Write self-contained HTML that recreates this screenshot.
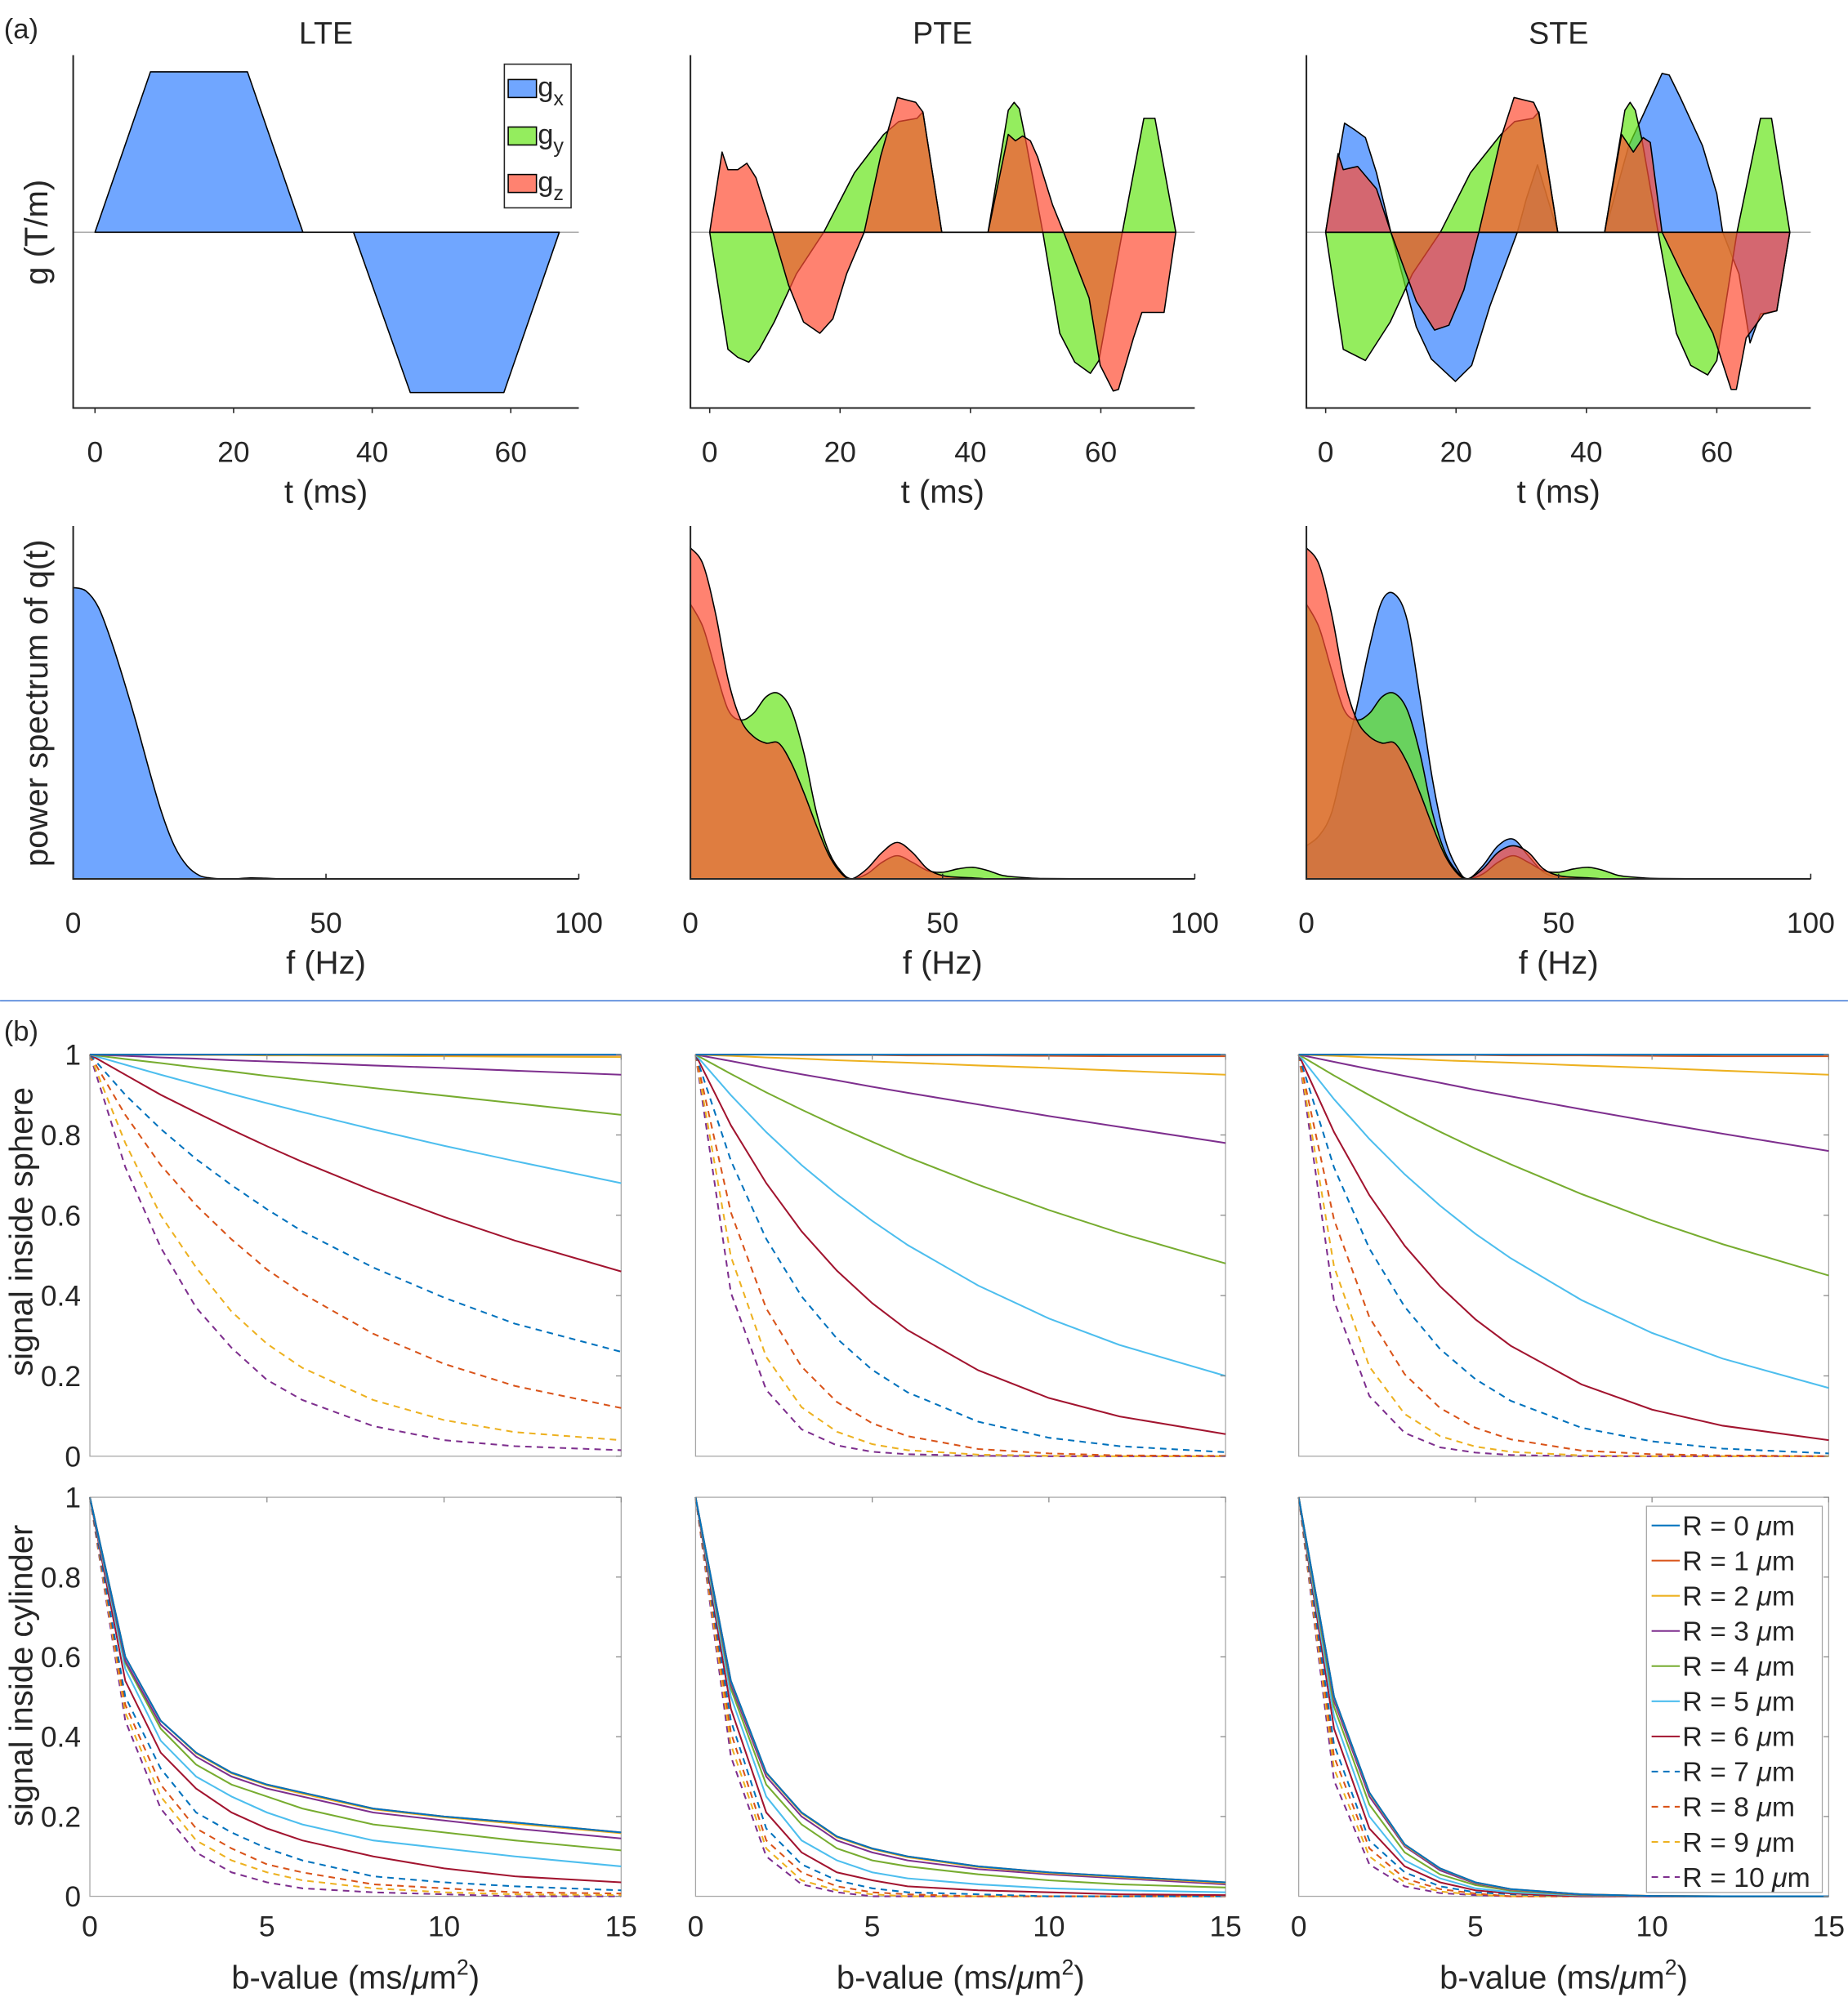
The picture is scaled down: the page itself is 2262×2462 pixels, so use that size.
<!DOCTYPE html>
<html><head><meta charset="utf-8"><title>Diffusion encoding figure</title>
<style>
html,body{margin:0;padding:0;background:#fff;}
svg{display:block;}
text{font-family:"Liberation Sans",Arial,sans-serif;fill:#262626;}
</style></head>
<body>
<svg id="fig" xmlns="http://www.w3.org/2000/svg" width="2262" height="2462" viewBox="0 0 1440 1567.4">
<rect x="0" y="0" width="1440" height="1567.4" fill="#fff"/>
</svg>
<script>
// ---------------- DATA ----------------
const lteGxT = [0,8,22,30,37.3,45.5,59,67];
const lteGxV = [0,1,1,0,0,-1,-1,0];

const pteGzT = [0,1.9,2.8,4.3,5.7,7.1,9.7,12.1,14.4,16.9,18.9,21,23.7,26.2,28.8,31.6,32.7,35.6,42.7,45.8,46.9,48,49.2,50.3,52.6,54.3,58.2,59.9,61.9,62.7,65,66.3,69.7,71.5];
const pteGzV = [0,0.5,0.39,0.39,0.43,0.34,0,-0.33,-0.56,-0.63,-0.54,-0.26,0,0.47,0.84,0.81,0.75,0,0,0.61,0.57,0.6,0.57,0.47,0.17,0,-0.41,-0.83,-0.99,-0.98,-0.66,-0.5,-0.5,0];
const pteGyT = [0,2.8,4.3,6,7.6,9.9,13.3,17.5,22.2,26.7,29,31.8,32.7,35.6,42.7,45.8,46.7,47.5,48.4,51.1,53.7,56,58.4,59.7,63.3,66.6,68.3,71.5];
const pteGyV = [0,-0.73,-0.78,-0.81,-0.73,-0.56,-0.26,0,0.37,0.61,0.69,0.71,0.75,0,0,0.76,0.81,0.77,0.59,0,-0.63,-0.81,-0.88,-0.8,0,0.71,0.71,0];

const steGxT = [0,2.9,4.4,6.1,7.8,10,13.9,16.2,19.9,22.4,25.2,29.4,30.8,32.5,35.6,42.8,46.5,48.8,51.6,52.7,54.4,57.8,60,60.9,63.4,65.1,66.7,69.2,71.2];
const steGxV = [0,0.68,0.64,0.59,0.37,0,-0.59,-0.79,-0.93,-0.83,-0.46,0,0.21,0.42,0,0,0.54,0.74,0.99,0.98,0.84,0.54,0.24,0,-0.26,-0.69,-0.51,-0.49,0];
const steGyT = [0,2.7,6.1,9.9,13.3,17.6,22.2,26.9,29,31.8,32.7,35.6,42.8,45.9,46.7,47.5,48.5,51,53.8,56,58.6,60,63.1,66.7,68.4,71.2];
const steGyV = [0,-0.73,-0.8,-0.56,-0.26,0,0.37,0.61,0.69,0.71,0.75,0,0,0.76,0.81,0.76,0.58,0,-0.63,-0.83,-0.89,-0.8,0,0.71,0.71,0];
const steGzT = [0,1.9,2.7,4.9,7.8,10,13.9,16.7,18.9,21.2,23.5,26.9,28.9,31.9,32.7,35.6,42.8,45.4,47.2,48.7,49.8,51.6,54.9,59.4,62.2,63,64.5,67.2,69.2,71.2];
const steGzV = [0,0.49,0.39,0.41,0.27,0,-0.43,-0.61,-0.58,-0.36,0,0.59,0.84,0.81,0.74,0,0,0.61,0.5,0.59,0.56,0,-0.28,-0.63,-0.98,-0.98,-0.66,-0.51,-0.49,0];

const freqs = [0,2.5,5,7.5,10,12.5,15,17.5,20,22.5,25,27.5,30,32,35,38,41,44,47,50,53,56,59,62,66,70,80,100];
const lteSx = [0.88,0.87,0.82,0.72,0.6,0.47,0.33,0.2,0.1,0.04,0.01,0.002,0,0,0.003,0.002,0,0,0,0,0,0,0,0,0,0,0,0];
const pteSy = [0.83,0.76,0.63,0.51,0.48,0.5,0.55,0.56,0.51,0.38,0.2,0.08,0.02,0,0.015,0.05,0.07,0.05,0.025,0.02,0.03,0.035,0.025,0.01,0.004,0.001,0,0];
const pteSz = [1.0,0.95,0.8,0.6,0.48,0.43,0.41,0.41,0.35,0.26,0.16,0.07,0.015,0,0.03,0.08,0.11,0.08,0.03,0.01,0.005,0.003,0,0,0,0,0,0];
const steSx = [0.1,0.13,0.2,0.36,0.52,0.7,0.84,0.86,0.78,0.55,0.3,0.12,0.03,0,0.04,0.1,0.12,0.07,0.02,0.005,0,0,0,0,0,0,0,0];
const steSy = [0.83,0.76,0.63,0.51,0.48,0.5,0.55,0.56,0.51,0.38,0.2,0.08,0.02,0,0.015,0.05,0.07,0.05,0.025,0.02,0.03,0.035,0.025,0.01,0.004,0.001,0,0];
const steSz = [1.0,0.95,0.8,0.6,0.48,0.43,0.41,0.41,0.35,0.26,0.16,0.07,0.015,0,0.03,0.08,0.1,0.08,0.03,0.01,0.005,0.003,0,0,0,0,0,0];

const bValues = [0,1,2,3,4,5,6,8,10,12,15];
const radii = [0,1,2,3,4,5,6,7,8,9,10];
const sphereLTE = [
 [1,1,1,1,1,1,1,1,1,1,1],
 [1,1,1,1,1,1,1,1,0.999,0.999,0.999],
 [1,1,1,0.999,0.999,0.998,0.998,0.997,0.996,0.995,0.994],
 [1,0.997,0.993,0.99,0.986,0.983,0.98,0.973,0.967,0.96,0.95],
 [1,0.989,0.979,0.968,0.958,0.947,0.937,0.917,0.898,0.879,0.85],
 [1,0.975,0.95,0.926,0.902,0.879,0.857,0.814,0.773,0.735,0.68],
 [1,0.95,0.9,0.856,0.813,0.772,0.733,0.661,0.596,0.537,0.46],
 [1,0.9,0.815,0.74,0.675,0.615,0.56,0.47,0.395,0.33,0.26],
 [1,0.85,0.725,0.625,0.54,0.465,0.405,0.305,0.23,0.175,0.12],
 [1,0.78,0.6,0.47,0.36,0.28,0.22,0.14,0.09,0.06,0.04],
 [1,0.72,0.52,0.37,0.27,0.19,0.14,0.075,0.04,0.025,0.015]];
const spherePTE = [
 [1,1,1,1,1,1,1,1,1,1,1],
 [1,1,1,0.999,0.999,0.999,0.998,0.998,0.997,0.996,0.996],
 [1,0.997,0.993,0.99,0.986,0.983,0.98,0.973,0.967,0.96,0.95],
 [1,0.984,0.967,0.951,0.936,0.92,0.905,0.876,0.847,0.82,0.78],
 [1,0.952,0.906,0.863,0.822,0.783,0.745,0.676,0.613,0.556,0.48],
 [1,0.899,0.807,0.725,0.652,0.586,0.526,0.425,0.343,0.277,0.2],
 [1,0.824,0.68,0.56,0.462,0.381,0.314,0.214,0.145,0.099,0.055],
 [1,0.736,0.541,0.398,0.293,0.215,0.159,0.086,0.046,0.025,0.01],
 [1,0.607,0.368,0.223,0.135,0.082,0.05,0.018,0.007,0.002,0.001],
 [1,0.497,0.247,0.122,0.061,0.03,0.015,0.004,0.001,0,0],
 [1,0.407,0.165,0.067,0.027,0.011,0.005,0.001,0,0,0]];
const sphereSTE = [
 [1,1,1,1,1,1,1,1,1,1,1],
 [1,1,1,0.999,0.999,0.999,0.998,0.998,0.997,0.996,0.996],
 [1,0.997,0.993,0.99,0.986,0.983,0.98,0.973,0.967,0.96,0.95],
 [1,0.982,0.964,0.947,0.93,0.912,0.896,0.864,0.833,0.803,0.76],
 [1,0.948,0.899,0.852,0.808,0.766,0.727,0.653,0.587,0.528,0.45],
 [1,0.889,0.79,0.702,0.624,0.554,0.493,0.389,0.307,0.243,0.17],
 [1,0.807,0.65,0.524,0.423,0.341,0.275,0.179,0.116,0.076,0.04],
 [1,0.719,0.517,0.372,0.267,0.192,0.138,0.071,0.037,0.019,0.007],
 [1,0.589,0.346,0.204,0.12,0.071,0.042,0.014,0.005,0.002,0],
 [1,0.472,0.223,0.105,0.05,0.024,0.011,0.002,0,0,0],
 [1,0.387,0.15,0.058,0.022,0.009,0.003,0,0,0,0]];
const cylLTE = [
 [1,0.6,0.44,0.36,0.31,0.28,0.26,0.22,0.2,0.185,0.16],
 [1,0.6,0.44,0.36,0.31,0.28,0.26,0.22,0.2,0.185,0.16],
 [1,0.6,0.44,0.358,0.308,0.278,0.257,0.218,0.198,0.182,0.158],
 [1,0.59,0.43,0.35,0.3,0.27,0.25,0.21,0.19,0.17,0.145],
 [1,0.585,0.42,0.33,0.28,0.25,0.22,0.18,0.16,0.14,0.115],
 [1,0.57,0.39,0.3,0.25,0.21,0.18,0.14,0.12,0.1,0.075],
 [1,0.54,0.36,0.27,0.21,0.17,0.14,0.1,0.07,0.05,0.035],
 [1,0.5,0.32,0.21,0.16,0.12,0.09,0.05,0.035,0.025,0.015],
 [1,0.48,0.28,0.17,0.12,0.08,0.06,0.03,0.02,0.01,0.007],
 [1,0.46,0.25,0.14,0.09,0.06,0.04,0.02,0.01,0.005,0.003],
 [1,0.44,0.22,0.11,0.06,0.035,0.02,0.01,0.005,0,0]];
const cylPTE = [
 [1,0.54,0.31,0.21,0.15,0.12,0.1,0.075,0.06,0.05,0.035],
 [1,0.54,0.31,0.21,0.15,0.12,0.1,0.075,0.06,0.05,0.035],
 [1,0.538,0.308,0.208,0.148,0.118,0.098,0.073,0.058,0.048,0.033],
 [1,0.53,0.3,0.2,0.14,0.11,0.09,0.068,0.055,0.045,0.03],
 [1,0.52,0.28,0.18,0.12,0.09,0.075,0.055,0.04,0.03,0.022],
 [1,0.5,0.25,0.14,0.09,0.06,0.045,0.03,0.02,0.015,0.01],
 [1,0.47,0.21,0.11,0.06,0.04,0.025,0.015,0.01,0.005,0.003],
 [1,0.44,0.17,0.08,0.04,0.02,0.01,0.005,0,0,0],
 [1,0.41,0.14,0.06,0.025,0.01,0.005,0,0,0,0],
 [1,0.38,0.12,0.04,0.015,0.005,0,0,0,0,0],
 [1,0.35,0.1,0.03,0.01,0,0,0,0,0,0]];
const cylSTE = [
 [1,0.5,0.26,0.13,0.07,0.035,0.018,0.005,0.001,0,0],
 [1,0.5,0.26,0.13,0.07,0.035,0.018,0.005,0.001,0,0],
 [1,0.498,0.258,0.128,0.069,0.034,0.017,0.005,0.001,0,0],
 [1,0.49,0.25,0.125,0.065,0.032,0.016,0.004,0,0,0],
 [1,0.475,0.23,0.11,0.055,0.028,0.014,0.003,0,0,0],
 [1,0.45,0.2,0.09,0.045,0.02,0.01,0.002,0,0,0],
 [1,0.42,0.17,0.075,0.035,0.015,0.007,0,0,0,0],
 [1,0.38,0.14,0.06,0.025,0.01,0.005,0,0,0,0],
 [1,0.35,0.12,0.045,0.018,0.007,0,0,0,0,0],
 [1,0.32,0.1,0.035,0.012,0.004,0,0,0,0,0],
 [1,0.29,0.08,0.025,0.008,0.003,0,0,0,0,0]];

const tTicks = [0,20,40,60];
const fTicks = [0,50,100];
const bTicks = [0,5,10,15];
const sTicks = [0,0.2,0.4,0.6,0.8,1];
const sTickLabels = ['0','0.2','0.4','0.6','0.8','1'];
const panelTitles = ['LTE','PTE','STE'];

// ---------------- DRAWING ----------------
const NS = 'http://www.w3.org/2000/svg';
const svg = document.getElementById('fig');
const lineColors = ['#0072BD','#D95319','#EDB120','#7E2F8E','#77AC30','#4DBEEE','#A2142F','#0072BD','#D95319','#EDB120','#7E2F8E'];
const fillCols = {x:'#3380ff', y:'#66e61a', z:'#ff4d33'};
const TICK_FS = 22.5, LABEL_FS = 25.5, TITLE_FS = 24;

function mk(tag, parent){const e=document.createElementNS(NS,tag);(parent||svg).appendChild(e);return e;}
function txt(parent,x,y,s,size,anchor){const t=mk('text',parent);t.setAttribute('x',x);t.setAttribute('y',y);t.setAttribute('font-size',size);t.setAttribute('text-anchor',anchor||'middle');t.textContent=s;return t;}

const colX = [[57,451],[538,931],[1018,1411]];
const colXb = [[70,484],[542,955],[1012,1425]];

let t0 = txt(svg,3,30,'(a)',22,'start');


let t1 = txt(svg,3,811,'(b)',22,'start');


let sep = mk('line');
sep.setAttribute('x1',0);sep.setAttribute('x2',1440);sep.setAttribute('y1',780);sep.setAttribute('y2',780);
sep.setAttribute('stroke','#4a7fd8');sep.setAttribute('stroke-width','1');



// ---- Row 1: waveforms ----
const wave = [
 [['x',lteGxT,lteGxV]],
 [['y',pteGyT,pteGyV],['z',pteGzT,pteGzV]],
 [['x',steGxT,steGxV],['y',steGyT,steGyV],['z',steGzT,steGzV]]
];
const tScale = [5.4,5.08,5.08];
const tZero = [74,553,1033];
for(let c=0;c<3;c++){
  const [L,R]=colX[c];
  const g=mk('g');
  
  
  const top=43,bot=318,zero=181;
  const xs=t=>tZero[c]+t*tScale[c];
  const ys=v=>zero-v*125;
  const title=txt(g,(L+R)/2,34,panelTitles[c],TITLE_FS);
  
  
  const zl=mk('line',g);
  zl.setAttribute('x1',L);zl.setAttribute('x2',R);zl.setAttribute('y1',zero);zl.setAttribute('y2',zero);
  zl.setAttribute('stroke','#999');zl.setAttribute('stroke-width','0.8');
  
  
  for(const [ch,T,V] of wave[c]){
    let d='M'+xs(T[0])+','+ys(0);
    for(let i=0;i<T.length;i++) d+=' L'+xs(T[i]).toFixed(2)+','+ys(V[i]).toFixed(2);
    d+=' L'+xs(T[T.length-1])+','+ys(0)+' Z';
    const p=mk('path',g);
    p.setAttribute('d',d);p.setAttribute('fill',fillCols[ch]);p.setAttribute('fill-opacity','0.7');
    p.setAttribute('stroke','#000');p.setAttribute('stroke-width','1');p.setAttribute('stroke-linejoin','round');
    
    
  }
  const ax=mk('path',g);
  ax.setAttribute('d','M'+L+','+top+' L'+L+','+bot+' L'+R+','+bot);
  ax.setAttribute('fill','none');ax.setAttribute('stroke','#262626');ax.setAttribute('stroke-width','1.3');
  
  
  for(const tk of tTicks){
    const x=xs(tk);
    const l=mk('line',g);l.setAttribute('x1',x);l.setAttribute('x2',x);l.setAttribute('y1',bot);l.setAttribute('y2',bot+4);
    l.setAttribute('stroke','#262626');l.setAttribute('stroke-width','1');
    
    
    const tl=txt(g,x,360,String(tk),TICK_FS);
    
    
  }
  const xl=txt(g,(L+R)/2,392,'t (ms)',LABEL_FS);
  
  
}
{
  const lg=mk('g');
  
  
  const r=mk('rect',lg);r.setAttribute('x',393);r.setAttribute('y',50);r.setAttribute('width',52);r.setAttribute('height',112);
  r.setAttribute('fill','#fff');r.setAttribute('stroke','#262626');r.setAttribute('stroke-width','1');
  const names=['x','y','z'];
  names.forEach((n,i)=>{
    const y=62+i*37;
    const e=mk('g',lg);
    
    
    const s=mk('rect',e);s.setAttribute('x',396);s.setAttribute('y',y);s.setAttribute('width',22);s.setAttribute('height',14);
    s.setAttribute('fill',fillCols[n]);s.setAttribute('fill-opacity','0.7');s.setAttribute('stroke','#000');s.setAttribute('stroke-width','1');
    const t=txt(e,419,y+13,'g',22,'start');
    const sub=mk('tspan',t);sub.setAttribute('font-size','16');sub.setAttribute('dy','7');sub.textContent=n;
  });
}
let yl1=txt(svg,0,0,'g (T/m)',LABEL_FS);
yl1.setAttribute('transform','translate(37,181) rotate(-90)');



// ---- Row 2: spectra ----
function smoothPath(pts){
  let d='M'+pts[0][0].toFixed(2)+','+pts[0][1].toFixed(2);
  for(let i=0;i<pts.length-1;i++){
    const p0=pts[Math.max(0,i-1)],p1=pts[i],p2=pts[i+1],p3=pts[Math.min(pts.length-1,i+2)];
    const c1=[p1[0]+(p2[0]-p0[0])/6,p1[1]+(p2[1]-p0[1])/6];
    const c2=[p2[0]-(p3[0]-p1[0])/6,p2[1]-(p3[1]-p1[1])/6];
    d+=' C'+c1[0].toFixed(2)+','+Math.min(685,c1[1]).toFixed(2)+' '+c2[0].toFixed(2)+','+Math.min(685,c2[1]).toFixed(2)+' '+p2[0].toFixed(2)+','+p2[1].toFixed(2);
  }
  return d;
}
const spec=[[['x',lteSx]],[['y',pteSy],['z',pteSz]],[['x',steSx],['y',steSy],['z',steSz]]];
for(let c=0;c<3;c++){
  const [L,R]=colX[c];
  const g=mk('g');
  
  
  const top=410,bot=685;
  const xs=f=>L+f*(R-L)/100;
  const ys=v=>bot-v*258;
  for(const [ch,S] of spec[c]){
    const pts=freqs.map((f,i)=>[xs(f),ys(S[i])]);
    let d=smoothPath(pts)+' L'+xs(100)+','+bot+' L'+xs(0)+','+bot+' Z';
    const p=mk('path',g);
    p.setAttribute('d',d);p.setAttribute('fill',fillCols[ch]);p.setAttribute('fill-opacity','0.7');
    p.setAttribute('stroke','#000');p.setAttribute('stroke-width','1');
    
    
  }
  const ax=mk('path',g);
  ax.setAttribute('d','M'+L+','+top+' L'+L+','+bot+' L'+R+','+bot);
  ax.setAttribute('fill','none');ax.setAttribute('stroke','#262626');ax.setAttribute('stroke-width','1.3');
  
  
  for(const tk of fTicks){
    const x=xs(tk);
    const l=mk('line',g);l.setAttribute('x1',x);l.setAttribute('x2',x);l.setAttribute('y1',bot);l.setAttribute('y2',bot-4);
    l.setAttribute('stroke','#262626');l.setAttribute('stroke-width','1');
    
    
    const tl=txt(g,x,727,String(tk),TICK_FS);
    
    
  }
  const xl=txt(g,(L+R)/2,759,'f (Hz)',LABEL_FS);
  
  
}
let yl2=txt(svg,0,0,'power spectrum of q(t)',LABEL_FS);
yl2.setAttribute('transform','translate(37,548) rotate(-90)');



// ---- Rows 3/4 ----
const sigData=[[sphereLTE,spherePTE,sphereSTE],[cylLTE,cylPTE,cylSTE]];
const rowY=[[822,1135],[1167,1478]];
const rowNames=['sphere','cylinder'];
for(let r=0;r<2;r++){
  for(let c=0;c<3;c++){
    const [L,R]=colXb[c];const [top,bot]=rowY[r];
    const g=mk('g');
    
    
    const xs=b=>L+b*(R-L)/15;
    const ys=v=>bot-v*(bot-top);
    const box=mk('rect',g);
    box.setAttribute('x',L);box.setAttribute('y',top);box.setAttribute('width',R-L);box.setAttribute('height',bot-top);
    box.setAttribute('fill','none');box.setAttribute('stroke','#a6a6a6');box.setAttribute('stroke-width','0.8');
    
    
    const D=sigData[r][c];
    for(let k=D.length-1;k>=0;k--){
      const pts=bValues.map((b,i)=>xs(b).toFixed(2)+','+ys(D[k][i]).toFixed(2)).join(' ');
      const pl=mk('polyline',g);
      pl.setAttribute('points',pts);pl.setAttribute('fill','none');
      pl.setAttribute('stroke',lineColors[k]);pl.setAttribute('stroke-width','1.3');
      if(k>=7) pl.setAttribute('stroke-dasharray','5,4');
      
      
    }
    for(const tk of sTicks){
      const y=ys(tk);
      const l=mk('line',g);l.setAttribute('x1',R);l.setAttribute('x2',R-4);l.setAttribute('y1',y);l.setAttribute('y2',y);
      l.setAttribute('stroke','#888');l.setAttribute('stroke-width','0.8');
      
      
    }
    if(c===0){
      sTicks.forEach((tk,i)=>{
        const tl=txt(g,L-7,ys(tk)+8,sTickLabels[i],TICK_FS,'end');
        
        
      });
    }
    for(const tk of bTicks){
      const x=xs(tk);
      const l=mk('line',g);l.setAttribute('x1',x);l.setAttribute('x2',x);l.setAttribute('y1',top);l.setAttribute('y2',top+4);
      l.setAttribute('stroke','#888');l.setAttribute('stroke-width','0.8');
      
      
      if(r===1){
        const tl=txt(g,x,1509,String(tk),TICK_FS);
        
        
      }
    }
    if(r===1){
      const xl=txt(g,(L+R)/2,1550,'b-value (ms/',LABEL_FS);
      const mu=mk('tspan',xl);mu.setAttribute('font-style','italic');mu.textContent='\u03bc';
      const m=mk('tspan',xl);m.textContent='m';
      const sup=mk('tspan',xl);sup.setAttribute('font-size','17');sup.setAttribute('dy','-11');sup.textContent='2';
      const cl=mk('tspan',xl);cl.setAttribute('dy','11');cl.textContent=')';
      
      
    }
  }
}
let yl3=txt(svg,0,0,'signal inside sphere',LABEL_FS);
yl3.setAttribute('transform','translate(25,960) rotate(-90)');


let yl4=txt(svg,0,0,'signal inside cylinder',LABEL_FS);
yl4.setAttribute('transform','translate(25,1306) rotate(-90)');



{
  const lg=mk('g');
  
  
  const r=mk('rect',lg);r.setAttribute('x',1283);r.setAttribute('y',1174);r.setAttribute('width',137);r.setAttribute('height',301);
  r.setAttribute('fill','#fff');r.setAttribute('stroke','#a6a6a6');r.setAttribute('stroke-width','0.8');
  radii.forEach((R,i)=>{
    const y=1189+i*27.4;
    const e=mk('g',lg);
    
    
    const l=mk('line',e);l.setAttribute('x1',1287);l.setAttribute('x2',1309);l.setAttribute('y1',y);l.setAttribute('y2',y);
    l.setAttribute('stroke',lineColors[i]);l.setAttribute('stroke-width','1.3');
    if(i>=7) l.setAttribute('stroke-dasharray','5,4');
    const t=txt(e,1311,y+7.5,'R = '+R+' ',21.5,'start');
    const mu=mk('tspan',t);mu.setAttribute('font-style','italic');mu.textContent='\u03bc';
    const m=mk('tspan',t);m.textContent='m';
  });
}
</script>
</body></html>
